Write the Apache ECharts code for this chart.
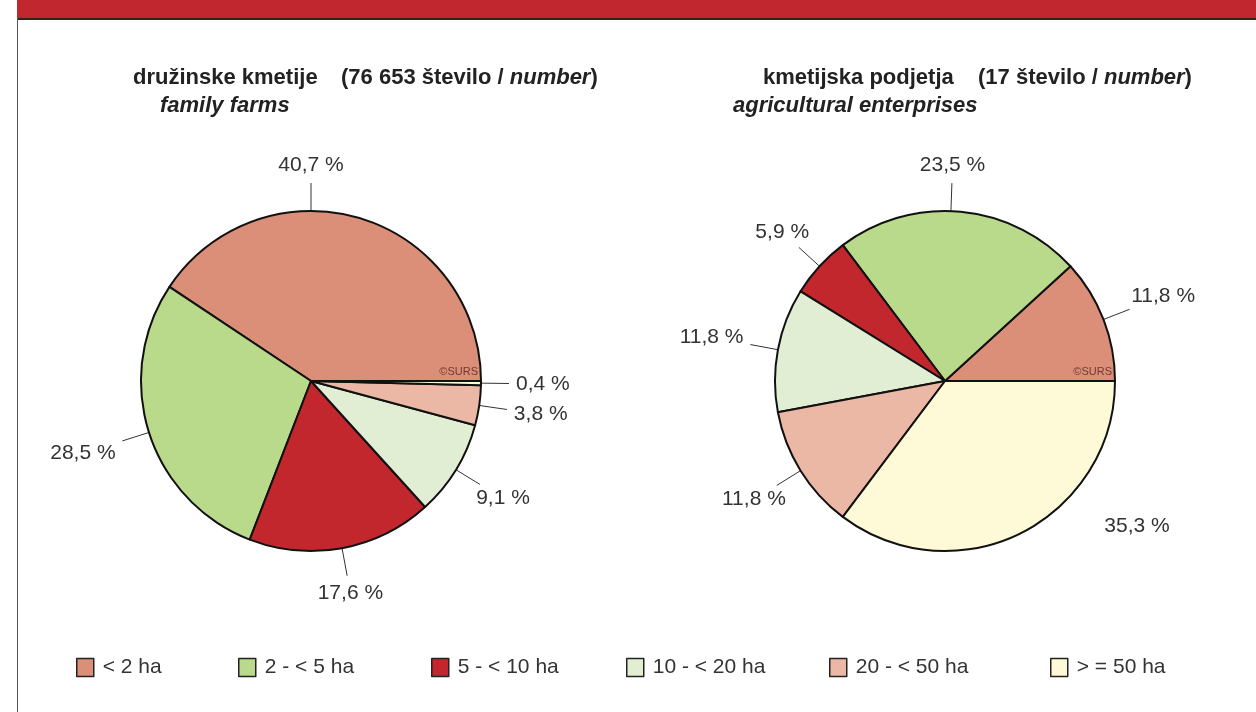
<!DOCTYPE html>
<html>
<head>
<meta charset="utf-8">
<style>
  html, body { margin: 0; padding: 0; background: #fff; }
  #chart { width: 1256px; height: 712px; }
</style>
<script src="https://cdn.jsdelivr.net/npm/echarts@6/dist/echarts.min.js"></script>
</head>
<body>
<div id="chart"></div>
<script>
// size classes (ha)
var categories = ['< 2 ha', '2 - < 5 ha', '5 - < 10 ha', '10 - < 20 ha', '20 - < 50 ha', '> = 50 ha'];
// shares in %
var familyFarms = [40.7, 28.5, 17.6, 9.1, 3.8, 0.4];
var enterprises = [11.8, 23.5, 5.9, 11.8, 11.8, 35.3];
var colors = ['#db8f78', '#b9d98b', '#c1272d', '#e2eed4', '#ecb8a6', '#fef9d7'];

var FONT = '"Liberation Sans", Arial, sans-serif';
var PIE_CENTERS = [[311, 381], [945, 381]];
var PIE_R = 170;
var LINE_LEN = 28;
var GAP = 7;
// labels that sit away from the slice middle
var LABEL_TWEAKS = {
  '0-0': { angle: 90 },
  '1-1': { angle: 88 },
  '1-5': { angle: 323, noLine: true, extra: 18 }
};

var chart = echarts.init(document.getElementById('chart'));

function pct(v) {
  return v.toFixed(1).replace('.', ',') + ' %';
}

function layoutLabel(params) {
  var s = params.seriesIndex, i = params.dataIndex;
  var vals = s === 0 ? familyFarms : enterprises;
  var total = 0, before = 0;
  vals.forEach(function (v, k) { total += v; if (k < i) before += v; });
  var tw = LABEL_TWEAKS[s + '-' + i] || {};
  var deg = tw.angle != null ? tw.angle : (before + vals[i] / 2) / total * 360;
  var a = deg * Math.PI / 180;
  var cos = Math.cos(a), sin = Math.sin(a);
  var c = PIE_CENTERS[s];
  var p0 = [c[0] + PIE_R * cos, c[1] - PIE_R * sin];
  var p1 = [c[0] + (PIE_R + LINE_LEN) * cos, c[1] - (PIE_R + LINE_LEN) * sin];
  var w = params.labelRect.width, h = params.labelRect.height;
  var ex = Math.min(
    Math.abs(cos) > 1e-3 ? w / 2 / Math.abs(cos) : 1e9,
    Math.abs(sin) > 1e-3 ? h / 2 / Math.abs(sin) : 1e9
  );
  var d = PIE_R + LINE_LEN + GAP + ex + (tw.extra || 0);
  return {
    x: c[0] + d * cos,
    y: c[1] - d * sin,
    align: 'center',
    verticalAlign: 'middle',
    labelLinePoints: tw.noLine ? [p0, p0, p0] : [p0, p1, p1]
  };
}

function pieSeries(idx, vals) {
  return {
    type: 'pie',
    center: PIE_CENTERS[idx],
    radius: PIE_R,
    startAngle: 0,
    clockwise: false,
    avoidLabelOverlap: false,
    silent: true,
    itemStyle: { borderColor: '#111', borderWidth: 2 },
    label: {
      show: true,
      position: 'outside',
      fontSize: 21,
      lineHeight: 20,
      fontFamily: FONT,
      color: '#333',
      formatter: function (p) { return pct(p.value); }
    },
    labelLine: {
      show: true,
      length: LINE_LEN,
      length2: 0,
      lineStyle: { color: '#333', width: 1 }
    },
    labelLayout: layoutLabel,
    data: categories.map(function (name, k) {
      return { name: name, value: vals[k] };
    })
  };
}

// one legend per entry to keep the spacing of the original
var legendLeft = [76, 238, 431, 626, 829, 1050];
var legends = categories.map(function (name, k) {
  return {
    data: [name],
    left: legendLeft[k],
    top: 657,
    padding: 0,
    itemWidth: 17,
    itemHeight: 18,
    icon: 'rect',
    selectedMode: false,
    itemStyle: { borderColor: '#222', borderWidth: 1.5 },
    textStyle: { fontSize: 21, fontFamily: FONT, color: '#333', padding: [0, 0, 0, 4] }
  };
});

var titleBase = { fontSize: 22, fontWeight: 'bold', fontFamily: FONT, color: '#222' };
function title(text, left, top, extra) {
  return {
    text: text,
    left: left,
    top: top,
    padding: 0,
    textStyle: Object.assign({}, titleBase, extra || {}, {
      rich: { i: Object.assign({}, titleBase, { fontStyle: 'italic' }) }
    })
  };
}

var option = {
  animation: false,
  color: colors,
  title: [
    title('družinske kmetije', 133, 67),
    title('(76 653 število / {i|number})', 341, 67),
    title('family farms', 160, 95, { fontStyle: 'italic' }),
    title('kmetijska podjetja', 763, 67),
    title('(17 število / {i|number})', 978, 67),
    title('agricultural enterprises', 733, 95, { fontStyle: 'italic' })
  ],
  legend: legends,
  graphic: [
    { type: 'rect', shape: { x: 17, y: 0, width: 1239, height: 18 }, style: { fill: '#c1272f' }, silent: true },
    { type: 'rect', shape: { x: 17, y: 18, width: 1239, height: 2 }, style: { fill: '#3a1d1d' }, silent: true },
    { type: 'rect', shape: { x: 17, y: 18, width: 1, height: 694 }, style: { fill: '#555' }, silent: true },
    { type: 'text', z: 100, style: { text: '©SURS', x: 478, y: 372, align: 'right', verticalAlign: 'middle', font: '11px ' + FONT, fill: '#6e3a30' } },
    { type: 'text', z: 100, style: { text: '©SURS', x: 1112, y: 372, align: 'right', verticalAlign: 'middle', font: '11px ' + FONT, fill: '#6e3a30' } }
  ],
  series: [
    pieSeries(0, familyFarms),
    pieSeries(1, enterprises)
  ]
};

chart.setOption(option);
</script>
</body>
</html>
